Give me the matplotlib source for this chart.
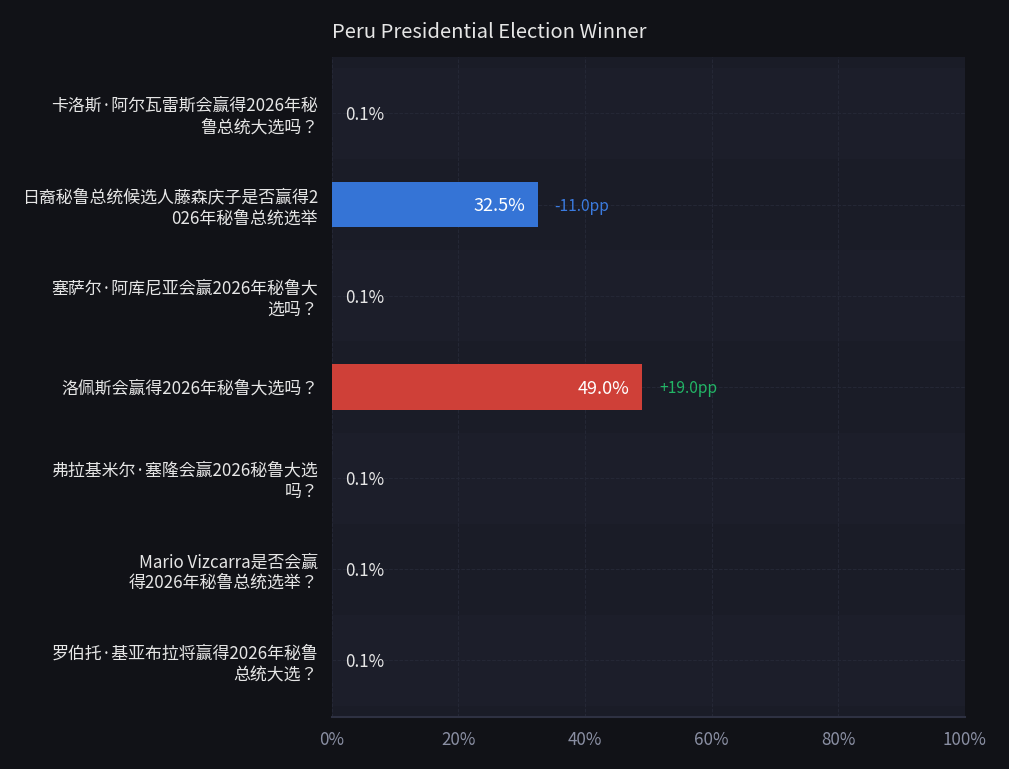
import matplotlib
matplotlib.use("Agg")
import matplotlib.pyplot as plt
from matplotlib.ticker import FuncFormatter

plt.rcParams['font.family'] = ['Noto Sans CJK JP', 'DejaVu Sans']

# data
questions = [
    "卡洛斯·阿尔瓦雷斯会赢得2026年秘\n鲁总统大选吗？",
    "日裔秘鲁总统候选人藤森庆子是否赢得2\n026年秘鲁总统选举",
    "塞萨尔·阿库尼亚会赢2026年秘鲁大\n选吗？",
    "洛佩斯会赢得2026年秘鲁大选吗？",
    "弗拉基米尔·塞隆会赢2026秘鲁大选\n吗？",
    "Mario Vizcarra是否会赢\n得2026年秘鲁总统选举？",
    "罗伯托·基亚布拉将赢得2026年秘鲁\n总统大选？",
]
probs = [0.1, 32.5, 0.1, 49.0, 0.1, 0.1, 0.1]
changes = [None, -11.0, None, 19.0, None, None, None]
bar_colors = ["#1f2230", "#3574d6", "#1f2230", "#cf4038", "#1f2230", "#1f2230", "#1f2230"]

BG = "#111217"
PANEL = "#1a1c27"
BAND = "#1c1e2a"
GRID = "#252836"

fig = plt.figure(figsize=(10.09, 7.69), dpi=100, facecolor=BG)
ax = fig.add_axes([0.329, 0.0676, 0.627, 0.8585])
ax.set_facecolor(PANEL)

y = list(range(len(questions)))

# alternating row bands
for i in y:
    if i % 2 == 0:
        ax.axhspan(i - 0.5, i + 0.5, color=BAND, zorder=0, lw=0)

ax.barh(y, probs, height=0.5, color=bar_colors, zorder=3)

for i, (p, c) in enumerate(zip(probs, changes)):
    if p >= 10:
        ax.text(p - 2.0, i + 0.02, f"{p:.1f}%", ha='right', va='center',
                color='white', fontsize=13, zorder=4)
    else:
        ax.text(p + 2.0, i + 0.02, f"{p:.1f}%", ha='left', va='center',
                color='#e6e6e6', fontsize=12.2, zorder=4)
    if c is not None:
        col = '#22b566' if c > 0 else '#3b7be0'
        ax.text(p + 2.7, i + 0.02, f"{c:+.1f}pp", ha='left', va='center',
                color=col, fontsize=11.2, zorder=4)

ax.set_xlim(0, 100)
ax.set_ylim(len(questions) - 0.38, -0.62)
ax.set_yticks(y)
ax.set_yticklabels(questions, fontsize=12.2, color='#e6e6e6', linespacing=1.2)
ax.set_xticks([0, 20, 40, 60, 80, 100])
ax.xaxis.set_major_formatter(FuncFormatter(lambda v, _: f"{v:.0f}%"))
ax.tick_params(axis='x', colors='#8a8fa3', labelsize=12.2, length=0, pad=10)
ax.tick_params(axis='y', length=0, pad=10)

ax.grid(True, color=GRID, linestyle='--', linewidth=0.7, zorder=1)
ax.set_axisbelow(True)

for side in ['top', 'right', 'left']:
    ax.spines[side].set_visible(False)
ax.spines['bottom'].set_color('#2e3142')
ax.spines['bottom'].set_linewidth(1.5)

fig.text(0.329, 0.958, "Peru Presidential Election Winner", ha='left', va='center',
         color='#e6e6e6', fontsize=14.5)

fig.savefig("out.png", dpi=100, facecolor=BG)
